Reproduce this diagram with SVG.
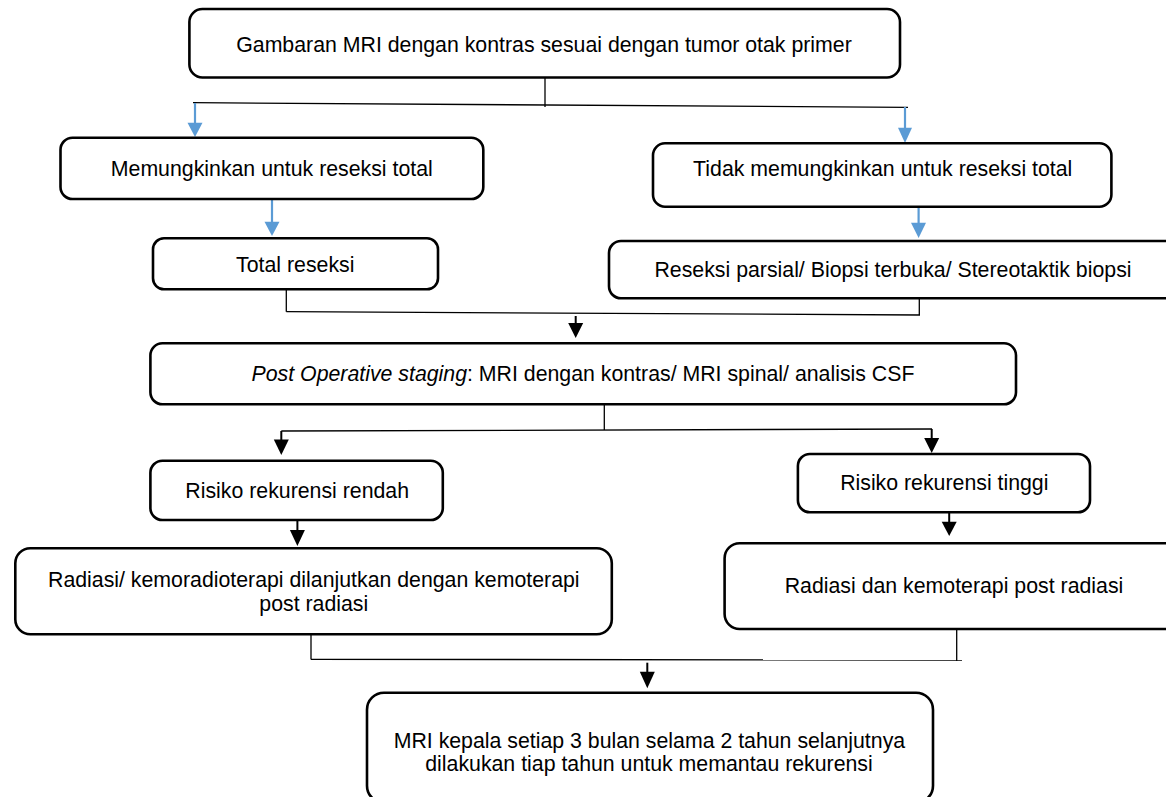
<svg xmlns="http://www.w3.org/2000/svg" width="1166" height="797" viewBox="0 0 1166 797">
  <style>
    .box { fill: #ffffff; stroke: #000000; stroke-width: 2.6; }
    .lbl { font-family: "Liberation Sans", Arial, sans-serif; font-size: 21.3px; fill: #000000; text-anchor: middle; }
    .wire { fill: none; stroke: #000000; stroke-width: 1.3; }
    .stem { fill: none; stroke: #000000; stroke-width: 2; }
    .bstem { fill: none; stroke: #5B9BD5; stroke-width: 2.2; }
    .head { fill: #000000; }
    .bhead { fill: #5B9BD5; }
  </style>
  <rect width="1166" height="797" fill="#ffffff"/>

  <!-- connectors -->
  <g id="connectors">
    <!-- split after MRI -->
    <line class="wire" x1="545" y1="77" x2="545" y2="107"/>
    <line class="wire" x1="193" y1="102.7" x2="908" y2="107.3"/>
    <line class="bstem" x1="195" y1="103" x2="195" y2="124"/>
    <polygon class="bhead" points="187.5,122.7 202.5,122.7 195,137"/>
    <line class="bstem" x1="905" y1="107" x2="905" y2="129"/>
    <polygon class="bhead" points="898,127.7 912,127.7 905,143"/>
    <!-- down to resection boxes -->
    <line class="bstem" x1="272" y1="199" x2="272" y2="223"/>
    <polygon class="bhead" points="264.5,221.7 279.5,221.7 272,236"/>
    <line class="bstem" x1="918.6" y1="202" x2="918.6" y2="224"/>
    <polygon class="bhead" points="911,222.7 926,222.7 918.6,238"/>
    <!-- merge into staging -->
    <line class="wire" x1="286.3" y1="287" x2="286.3" y2="311.7"/>
    <line class="wire" x1="286.3" y1="311.7" x2="920" y2="315"/>
    <line class="wire" x1="919.3" y1="298" x2="919.3" y2="315"/>
    <line class="stem" x1="575.7" y1="316" x2="575.7" y2="324"/>
    <polygon class="head" points="568.2,323 583.2,323 575.7,338"/>
    <!-- split by recurrence risk -->
    <line class="wire" x1="604.3" y1="404" x2="604.3" y2="430"/>
    <line class="wire" x1="281.3" y1="431" x2="932" y2="429"/>
    <line class="stem" x1="281.3" y1="431" x2="281.3" y2="441"/>
    <polygon class="head" points="273.8,439.5 288.8,439.5 281.3,455"/>
    <line class="stem" x1="931.7" y1="429" x2="931.7" y2="439"/>
    <polygon class="head" points="924.2,438 939.2,438 931.7,453"/>
    <!-- down to therapy boxes -->
    <line class="stem" x1="297.4" y1="520" x2="297.4" y2="531"/>
    <polygon class="head" points="289.9,530 304.9,530 297.4,546"/>
    <line class="stem" x1="949.2" y1="510" x2="949.2" y2="523"/>
    <polygon class="head" points="941.7,521.7 956.7,521.7 949.2,536"/>
    <!-- merge into follow-up -->
    <line class="wire" x1="311" y1="634" x2="311" y2="659.5"/>
    <line class="wire" x1="311" y1="659.3" x2="962" y2="660"/>
    <line class="wire" x1="956.7" y1="625.7" x2="956.7" y2="661"/>
    <line class="stem" x1="647.3" y1="662.7" x2="647.3" y2="673"/>
    <polygon class="head" points="639.8,671.7 654.8,671.7 647.3,688.3"/>
  </g>

  <g id="mri-awal">
    <rect class="box" x="189.4" y="9" width="710.6" height="68.5" rx="13"/>
    <text class="lbl" x="544" y="51.7">Gambaran MRI dengan kontras sesuai dengan tumor otak primer</text>
  </g>

  <g id="reseksi-mungkin">
    <rect class="box" x="60.5" y="137.7" width="422.8" height="61.3" rx="12"/>
    <text class="lbl" x="271.8" y="175.7">Memungkinkan untuk reseksi total</text>
  </g>

  <g id="reseksi-tidak-mungkin">
    <rect class="box" x="653" y="143.3" width="458.4" height="63.4" rx="12"/>
    <text class="lbl" x="882.7" y="176">Tidak memungkinkan untuk reseksi total</text>
  </g>

  <g id="total-reseksi">
    <rect class="box" x="153" y="238.3" width="285" height="51" rx="11"/>
    <text class="lbl" x="295.3" y="271.7">Total reseksi</text>
  </g>

  <g id="reseksi-parsial">
    <rect class="box" x="609" y="241" width="575" height="57.3" rx="12"/>
    <text class="lbl" x="893" y="276.7">Reseksi parsial/ Biopsi terbuka/ Stereotaktik biopsi</text>
  </g>

  <g id="staging">
    <rect class="box" x="150.4" y="343.3" width="865.6" height="61" rx="12"/>
    <text class="lbl" x="583" y="381"><tspan font-style="italic">Post Operative staging</tspan>: MRI dengan kontras/ MRI spinal/ analisis CSF</text>
  </g>

  <g id="risiko-rendah">
    <rect class="box" x="150.4" y="460.7" width="292.4" height="59.3" rx="12"/>
    <text class="lbl" x="297.2" y="498.3">Risiko rekurensi rendah</text>
  </g>

  <g id="risiko-tinggi">
    <rect class="box" x="797.9" y="454" width="292.1" height="58.3" rx="12"/>
    <text class="lbl" x="944.3" y="490">Risiko rekurensi tinggi</text>
  </g>

  <g id="terapi-rendah">
    <rect class="box" x="15.3" y="548.3" width="596.5" height="86" rx="15"/>
    <text class="lbl" x="313.8" y="587.3">Radiasi/ kemoradioterapi dilanjutkan dengan kemoterapi</text>
    <text class="lbl" x="313.8" y="610.7">post radiasi</text>
  </g>

  <g id="terapi-tinggi">
    <rect class="box" x="724.6" y="543.3" width="460" height="85.7" rx="15"/>
    <text class="lbl" x="954" y="593">Radiasi dan kemoterapi post radiasi</text>
  </g>

  <g id="follow-up">
    <rect class="box" x="367" y="692.7" width="566" height="110" rx="17"/>
    <text class="lbl" x="649.4" y="747.5">MRI kepala setiap 3 bulan selama 2 tahun selanjutnya</text>
    <text class="lbl" x="649" y="770.5">dilakukan tiap tahun untuk memantau rekurensi</text>
  </g>
</svg>
